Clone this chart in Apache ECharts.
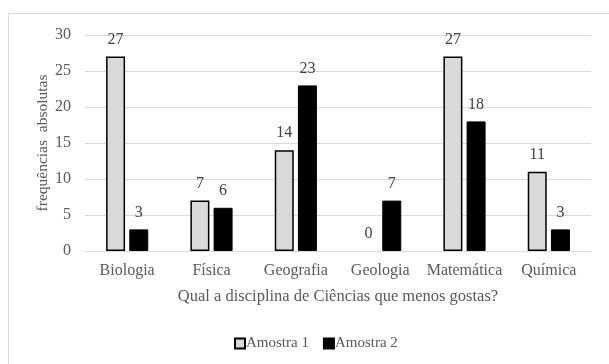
<!DOCTYPE html>
<html>
<head>
<meta charset="utf-8">
<script src="https://cdn.jsdelivr.net/npm/echarts@6/dist/echarts.min.js"></script>
<style>
  html, body { margin: 0; padding: 0; background: #fff; }
  #frame { position: absolute; left: 8px; top: 13px; width: 640px; height: 400px; border: 1px solid #d9d9d9; box-sizing: border-box; }
  #chart { position: absolute; left: 0; top: 0; width: 609px; height: 364px; }
</style>
</head>
<body>
<div id="frame"></div>
<div id="chart"></div>
<script>
// Disciplinas e frequências das duas amostras
const categories = ['Biologia', 'Física', 'Geografia', 'Geologia', 'Matemática', 'Química'];
const amostra1 = [27, 7, 14, 0, 27, 11];
const amostra2 = [3, 6, 23, 7, 18, 3];
const yTicks = [0, 5, 10, 15, 20, 25, 30];

const font = '"Liberation Serif", "Times New Roman", serif';
const textColor = '#595959';

const chart = echarts.init(document.getElementById('chart'), null, { renderer: 'canvas' });

const labelStyle = {
  show: true,
  position: 'top',
  distance: 9,
  fontFamily: font,
  fontSize: 16,
  color: '#404040'
};

// bars of height zero draw no outline
const asBars = vals => vals.map(v => v === 0 ? { value: v, itemStyle: { borderWidth: 0 } } : v);

chart.setOption({
  animation: false,
  textStyle: { fontFamily: font },
  grid: { left: 85, right: 18, top: 35, bottom: 113, containLabel: false },
  legend: {
    bottom: 8,
    left: 229,
    itemWidth: 10,
    itemHeight: 10,
    itemGap: 14,
    icon: 'rect',
    textStyle: { fontFamily: font, fontSize: 15, color: textColor, padding: [0, 0, 0, -4] },
    data: ['Amostra 1', 'Amostra 2']
  },
  xAxis: {
    type: 'category',
    data: categories,
    name: 'Qual a disciplina de Ciências que menos gostas?',
    nameLocation: 'middle',
    nameGap: 37,
    nameMoveOverlap: false,
    nameTextStyle: { fontFamily: font, fontSize: 16.5, color: textColor },
    axisLine: { show: true, lineStyle: { color: '#d9d9d9', width: 1 } },
    axisTick: { show: false },
    axisLabel: { interval: 0, fontFamily: font, fontSize: 16, color: textColor, margin: 12 }
  },
  yAxis: {
    type: 'value',
    min: yTicks[0],
    max: yTicks[yTicks.length - 1],
    interval: 5,
    name: 'frequências  absolutas',
    nameLocation: 'middle',
    nameGap: 34,
    nameMoveOverlap: false,
    nameRotate: 90,
    nameTextStyle: { fontFamily: font, fontSize: 15.5, color: textColor },
    axisLine: { show: false },
    axisTick: { show: false },
    axisLabel: { fontFamily: font, fontSize: 16, color: textColor, margin: 14 },
    splitLine: { lineStyle: { color: '#d9d9d9', width: 1 } }
  },
  series: [
    {
      name: 'Amostra 1',
      type: 'bar',
      data: asBars(amostra1),
      barWidth: 19,
      barGap: '22%',
      itemStyle: { color: '#d9d9d9', borderColor: '#000', borderWidth: 1.5 },
      label: labelStyle
    },
    {
      name: 'Amostra 2',
      type: 'bar',
      data: asBars(amostra2),
      barWidth: 19,
      barGap: '22%',
      itemStyle: { color: '#000', borderColor: '#000', borderWidth: 1 },
      label: labelStyle
    }
  ]
});
</script>
</body>
</html>
